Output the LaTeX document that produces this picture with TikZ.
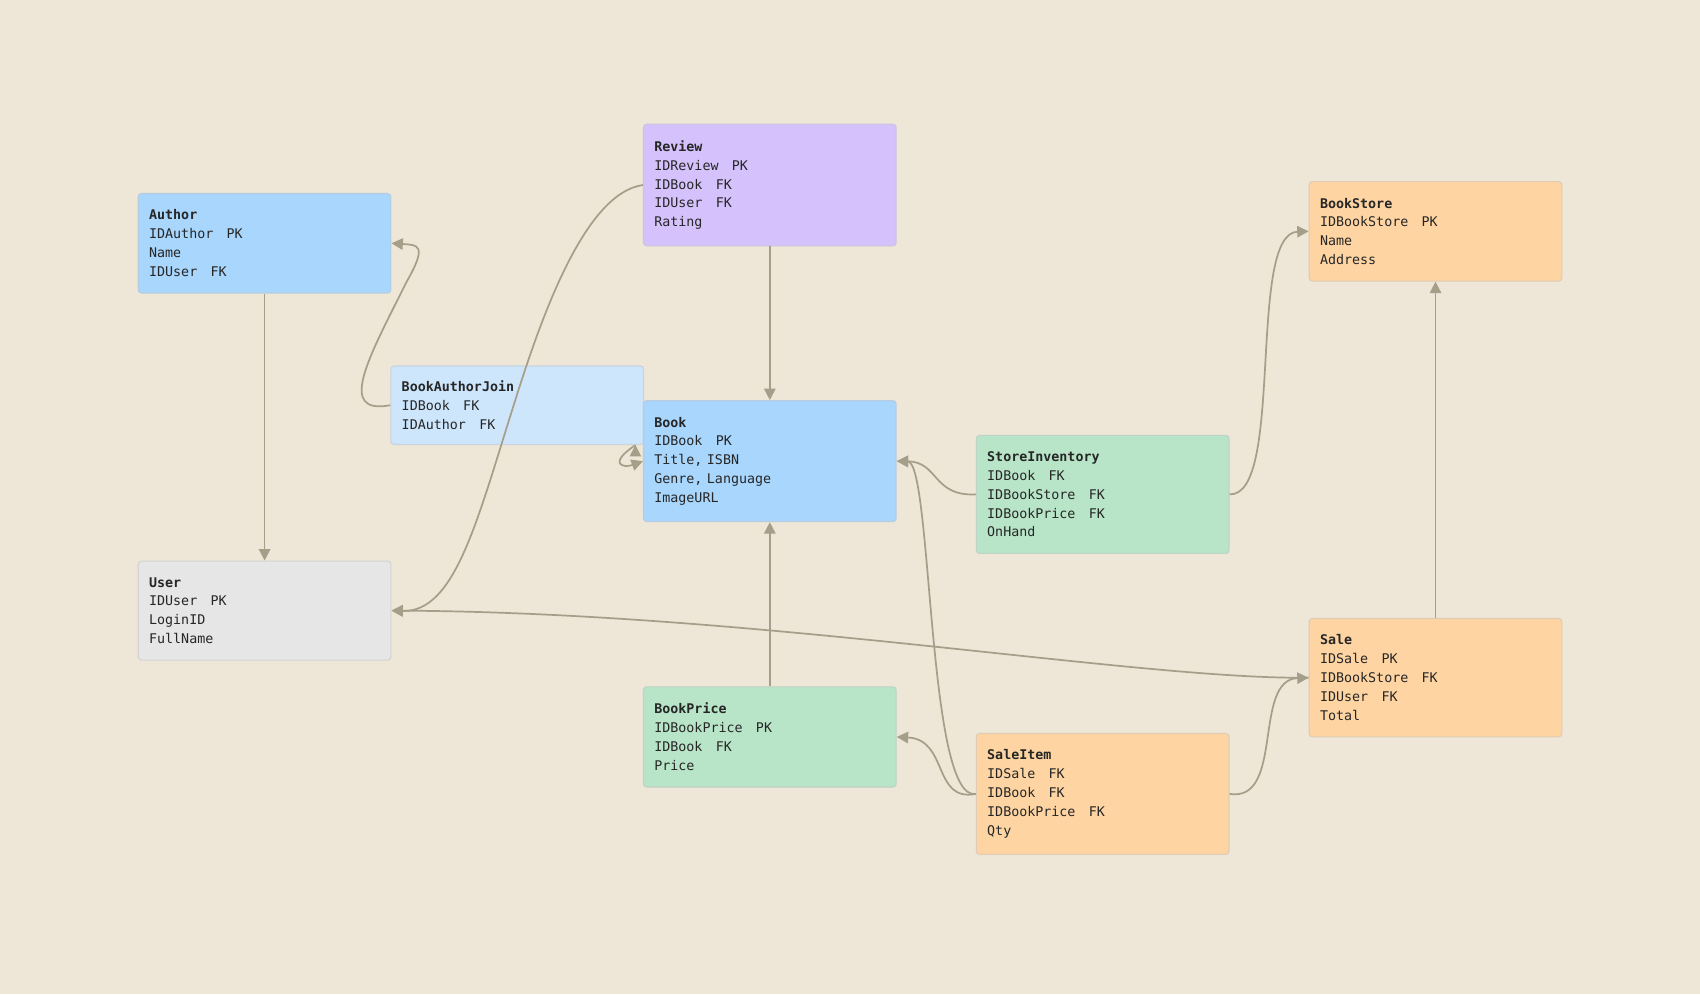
\documentclass[tikz,border=0pt]{standalone}
\usepackage{fontspec}
\setmonofont{DejaVu Sans Mono}
\usetikzlibrary{positioning}
\usetikzlibrary{arrows.meta}

\definecolor{Paper}{HTML}{EEE6D6}
\definecolor{Wire}{HTML}{A59E88}
\definecolor{BlueBox}{HTML}{A8D6FC}
\definecolor{PaleBox}{HTML}{CDE6FC}
\definecolor{VioletBox}{HTML}{D5C2FC}
\definecolor{GreyBox}{HTML}{E6E6E6}
\definecolor{GreenBox}{HTML}{B8E5C8}
\definecolor{OrangeBox}{HTML}{FED5A2}

\tikzset{
	table/.style={draw=#1!80!black!60, fill=#1, rounded corners=0.12cm, line width=1.2pt,
		anchor=north west, align=left, text width=8.52cm, inner xsep=0.4cm, inner ysep=0.6cm,
		font=\ttfamily\fontsize{14}{19.8}\selectfont, text=black!85},
	link/.style={draw=Wire, line width=1.8pt, -{Triangle[length=0.42cm,width=0.42cm]}},
}

\begin{document}
\begin{tikzpicture}[x=0.04cm,y=-0.04cm]

	% ---------------------
	% Canvas
	\fill[Paper] (0,0) rectangle (1568,917);
	\useasboundingbox (0,0) rectangle (1568,917);

	% ---------------------
	% Tables
	\node[table=BlueBox] (Author) at (127,178) {\textbf{Author}\\IDAuthor\ \ \ PK\\Name\\IDUser\ \ \ FK};
	\node[table=PaleBox, inner ysep=0.55cm] (BookAuthorJoin) at (360,337) {\textbf{BookAuthorJoin}\\IDBook\ \ \ FK\\IDAuthor\ \ \ FK};
	\node[table=VioletBox] (Review) at (593,114) {\textbf{Review}\\IDReview\ \ \ PK\\IDBook\ \ \ FK\\IDUser\ \ \ FK\\Rating};
	\node[table=BlueBox] (Book) at (593,369) {\textbf{Book}\\IDBook\ \ \ PK\\Title, ISBN\\Genre, Language\\ImageURL};
	\node[table=GreyBox] (User) at (127,517) {\textbf{User}\\IDUser\ \ \ PK\\LoginID\\FullName};
	\node[table=GreenBox] (BookPrice) at (593,633) {\textbf{BookPrice}\\IDBookPrice\ \ \ PK\\IDBook\ \ \ FK\\Price};
	\node[table=GreenBox] (StoreInventory) at (900,401) {\textbf{StoreInventory}\\IDBook\ \ \ FK\\IDBookStore\ \ \ FK\\IDBookPrice\ \ \ FK\\OnHand};
	\node[table=OrangeBox] (SaleItem) at (900,676) {\textbf{SaleItem}\\IDSale\ \ \ FK\\IDBook\ \ \ FK\\IDBookPrice\ \ \ FK\\Qty};
	\node[table=OrangeBox] (BookStore) at (1207,167) {\textbf{BookStore}\\IDBookStore\ \ \ PK\\Name\\Address};
	\node[table=OrangeBox] (Sale) at (1207,570) {\textbf{Sale}\\IDSale\ \ \ PK\\IDBookStore\ \ \ FK\\IDUser\ \ \ FK\\Total};

	% ---------------------
	% Links
	\begin{scope}[on background layer/.style={}]
	\path[link] (Review.west) .. controls (540,178) and (500,290) .. (475,370)
		.. controls (440,480) and (420,565) .. (User.east);
	\end{scope}
	\path[link] (Author.south) -- (User.north);
	\path[link] (BookAuthorJoin.west) .. controls (310,383) and (340,330) .. (375,260)
		.. controls (395,225) and (385,226) .. (Author.east);
	\path[link] (BookAuthorJoin.south east) ++(-8,0) coordinate (JoinCurl);
	\path[link] (JoinCurl) .. controls (560,428) and (575,432) .. (Book.west);
	\path[link] (Review.south) -- (Book.north);
	\path[link] (BookPrice.north) -- (Book.south);
	\path[link] (StoreInventory.west) .. controls (860,458) and (866,426) .. (Book.east);
	\path[link] (SaleItem.west) .. controls (855,740) and (860,426) .. (Book.east);
	\path[link] (SaleItem.west) .. controls (860,740) and (875,682) .. (BookPrice.east);
	\path[link] (StoreInventory.east) .. controls (1185,458) and (1150,215) .. (BookStore.west);
	\path[link] (SaleItem.east) .. controls (1185,740) and (1155,627) .. (Sale.west);
	\path[link] (Sale.north) -- (BookStore.south);
	\path[link] (Sale.west) .. controls (1050,627) and (700,565) .. (User.east);

\end{tikzpicture}
\end{document}
